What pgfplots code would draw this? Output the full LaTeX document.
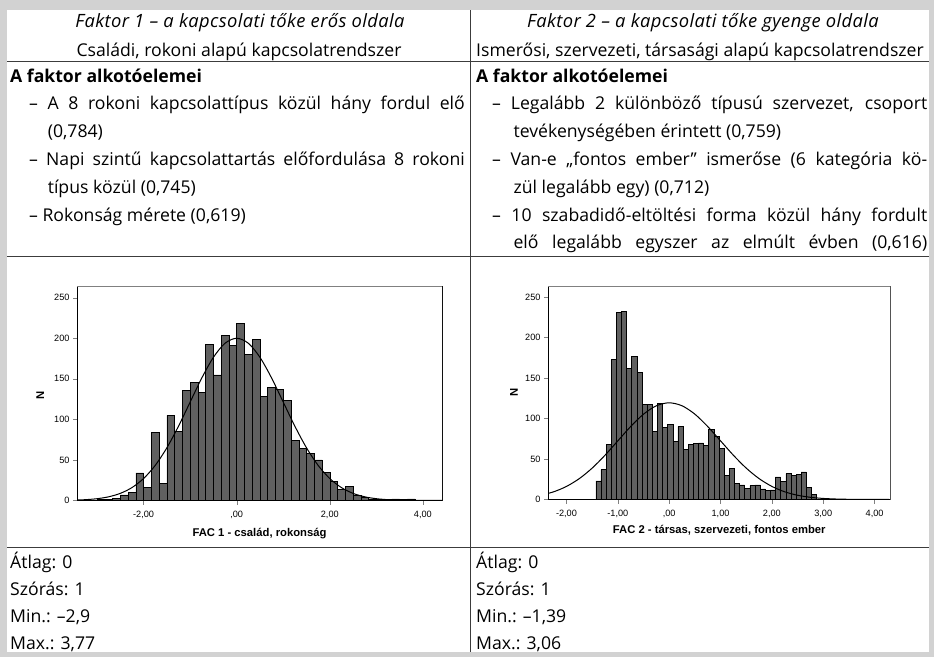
\documentclass[border=0pt]{standalone}
\usepackage{pgfplots}
\pgfplotsset{compat=1.18}
\usepackage{fontspec}
\setmainfont{Open Sans}
\newfontfamily\arial{Liberation Sans}
\newfontfamily\itfont[LetterSpace=2.2]{Open Sans Italic}
\definecolor{bordergray}{RGB}{210,210,210}
\definecolor{rulegray}{RGB}{60,60,60}
\definecolor{bargray}{RGB}{96,96,96}
\newcommand\tf{\fontsize{17.7}{20}\selectfont}
\tikzset{txt/.style={inner sep=0pt, font=\tf}}
\pgfplotsset{hist/.style={
  scale only axis, anchor=south west,
  ymin=0, ytick={0,50,100,150,200,250},
  yticklabels={0,50,100,150,200,250},
  tick pos=left, tick align=outside, major tick length=4bp,
  ticklabel style={font=\arial\fontsize{9.2}{10}\selectfont},
  xticklabel style={yshift=-3bp},
  axis line style={black, line width=0.8bp},
  xlabel style={font=\arial\bfseries\fontsize{11.3}{13}\selectfont, anchor=center},
  ylabel style={font=\arial\bfseries\fontsize{11.3}{13}\selectfont, anchor=center},
  ylabel={N},
}}
\begin{document}
\begin{tikzpicture}
\fill[bordergray] (0,0) rectangle (934bp,-657bp);
\fill[white] (7bp,-10bp) rectangle (929bp,-652bp);
% table rules
\draw[rulegray, line width=0.9bp] (7bp,-61.7bp) -- (929bp,-61.7bp);
\draw[rulegray, line width=0.9bp] (7bp,-256bp) -- (929bp,-256bp);
\draw[rulegray, line width=0.9bp] (7bp,-547bp) -- (929bp,-547bp);
\draw[rulegray, line width=0.9bp] (470.5bp,-10bp) -- (470.5bp,-652bp);
% header
\node[inner sep=0pt, anchor=base] at (240bp,-27bp) {\itfont\fontsize{18.4}{20}\selectfont Faktor 1 – a kapcsolati tőke erős oldala};
\node[txt, anchor=base] at (239bp,-56bp) {Családi, rokoni alapú kapcsolatrendszer};
\node[inner sep=0pt, anchor=base] at (703bp,-27bp) {\itfont\fontsize{18.4}{20}\selectfont Faktor 2 – a kapcsolati tőke gyenge oldala};
\node[txt, anchor=base] at (700bp,-56bp) {Ismerősi, szervezeti, társasági alapú kapcsolatrendszer};
% left column
\node[txt, anchor=base west] at (10bp,-82bp) {\bfseries A faktor alkotóelemei};
\node[txt, anchor=base west] at (29bp,-109.8bp) {\makebox[435.6bp][s]{– A 8 rokoni kapcsolattípus közül hány fordul elő}};
\node[txt, anchor=base west] at (47.6bp,-137.6bp) {(0,784)};
\node[txt, anchor=base west] at (29bp,-165.4bp) {\makebox[435.6bp][s]{– Napi szintű kapcsolattartás előfordulása 8 rokoni}};
\node[txt, anchor=base west] at (47.6bp,-193.2bp) {típus közül (0,745)};
\node[txt, anchor=base west] at (29bp,-221bp) {– Rokonság mérete (0,619)};
% right column
\node[txt, anchor=base west] at (476bp,-82bp) {\bfseries A faktor alkotóelemei};
\node[txt, anchor=base west] at (492bp,-109.8bp) {\makebox[435bp][s]{– Legalább 2 különböző típusú szervezet, csoport}};
\node[txt, anchor=base west] at (513.4bp,-137.6bp) {tevékenységében érintett (0,759)};
\node[txt, anchor=base west] at (492bp,-165.4bp) {\makebox[435bp][s]{– Van-e „fontos ember” ismerőse (6 kategória kö-}};
\node[txt, anchor=base west] at (513.4bp,-193.2bp) {zül legalább egy) (0,712)};
\node[txt, anchor=base west] at (492bp,-221bp) {\makebox[435bp][s]{– 10 szabadidő-eltöltési forma közül hány fordult}};
\node[txt, anchor=base west] at (513.4bp,-248.8bp) {\makebox[413.6bp][s]{elő legalább egyszer az elmúlt évben (0,616)}};
% stats
\node[txt, anchor=base west] at (10bp,-568bp) {Átlag: 0};
\node[txt, anchor=base west] at (10bp,-595bp) {Szórás: 1};
\node[txt, anchor=base west] at (10bp,-622bp) {Min.: –2,9};
\node[txt, anchor=base west] at (10bp,-649bp) {Max.: 3,77};
\node[txt, anchor=base west] at (476bp,-568bp) {Átlag: 0};
\node[txt, anchor=base west] at (476bp,-595bp) {Szórás: 1};
\node[txt, anchor=base west] at (476bp,-622bp) {Min.: –1,39};
\node[txt, anchor=base west] at (476bp,-649bp) {Max.: 3,06};

% histogram 1
\begin{axis}[hist, at={(77bp,-500.5bp)}, width=365bp, height=214.5bp,
  xmin=-3.43, xmax=4.41, ymax=264.4,
  xtick={-2,0,2,4}, xticklabels={{-2,00},{,00},{2,00},{4,00}},
  xlabel={FAC 1 - család, rokonság},
  xlabel style={at={(axis description cs:0.5,-0.156)}},
  ylabel style={at={(axis description cs:-0.101,0.49)}},
]
\addplot[ybar interval, fill=bargray, draw=black, line width=0.5bp] coordinates {
(-3.0,1) (-2.8333,1) (-2.6667,3) (-2.5,7) (-2.3333,10) (-2.1667,34)
(-2.0,16) (-1.8333,84) (-1.6667,21) (-1.5,105) (-1.3333,85) (-1.1667,136)
(-1.0,146) (-0.8333,133) (-0.6667,192) (-0.5,155) (-0.3333,204) (-0.1667,191)
(0,218) (0.1667,180) (0.3333,199) (0.5,128) (0.6667,139) (0.8333,137)
(1.0,123) (1.1667,74) (1.3333,64) (1.5,58) (1.6667,50) (1.8333,35)
(2.0,24) (2.1667,14) (2.3333,17) (2.5,6) (2.6667,4) (2.8333,2)
(3.0,1) (3.1667,1) (3.3333,2) (3.5,1) (3.6667,2) (3.8333,0)
};
\addplot[black, line width=1bp, smooth] coordinates {
(-3.5,0.44) (-3.25,1.02) (-3.0,2.22) (-2.75,4.56) (-2.5,8.79) (-2.25,15.91)
(-2.0,27.07) (-1.75,43.25) (-1.5,64.93) (-1.25,91.57) (-1.0,121.31) (-0.75,150.97)
(-0.5,176.50) (-0.25,193.85) (0,200) (0.25,193.85) (0.5,176.50) (0.75,150.97)
(1.0,121.31) (1.25,91.57) (1.5,64.93) (1.75,43.25) (2.0,27.07) (2.25,15.91)
(2.5,8.79) (2.75,4.56) (3.0,2.22) (3.25,1.02) (3.5,0.44) (3.75,0.18)
(4.0,0.07) (4.25,0.02) (4.5,0.01)
};
\draw[gray, line width=1bp] (rel axis cs:0,1) -- (rel axis cs:1,1) -- (rel axis cs:1,0);
\end{axis}

% histogram 2
\begin{axis}[hist, at={(548bp,-499.5bp)}, width=342.5bp, height=213.5bp,
  xmin=-2.36, xmax=4.31, ymax=263.6,
  xtick={-2,-1,0,1,2,3,4}, xticklabels={{-2,00},{-1,00},{,00},{1,00},{2,00},{3,00},{4,00}},
  xlabel={FAC 2 - társas, szervezeti, fontos ember},
  xlabel style={at={(axis description cs:0.5,-0.146)}},
  ylabel style={at={(axis description cs:-0.099,0.5)}},
]
\addplot[ybar interval, fill=bargray, draw=black, line width=0.5bp] coordinates {
(-1.43,23) (-1.33,37) (-1.23,68) (-1.13,173) (-1.03,231) (-0.93,232)
(-0.83,162) (-0.73,177) (-0.63,157) (-0.53,117) (-0.43,117) (-0.33,84)
(-0.23,119) (-0.13,89) (-0.03,93) (0.07,72) (0.17,90) (0.27,62)
(0.37,68) (0.47,69) (0.57,70) (0.67,67) (0.77,87) (0.87,78)
(0.97,63) (1.07,30) (1.17,38) (1.27,20) (1.37,18) (1.47,14)
(1.57,17) (1.67,18) (1.77,13) (1.87,11) (1.97,12) (2.07,28)
(2.17,22) (2.27,32) (2.37,30) (2.47,31) (2.57,34) (2.67,15)
(2.77,6) (2.87,0)
};
\addplot[black, line width=1bp, smooth] coordinates {
(-2.5,5.25) (-2.25,9.50) (-2.0,16.16) (-1.75,25.82) (-1.5,38.76) (-1.25,54.66)
(-1.0,72.42) (-0.75,90.13) (-0.5,105.37) (-0.25,115.73) (0,119.4) (0.25,115.73)
(0.5,105.37) (0.75,90.13) (1.0,72.42) (1.25,54.66) (1.5,38.76) (1.75,25.82)
(2.0,16.16) (2.25,9.50) (2.5,5.25) (2.75,2.72) (3.0,1.33) (3.25,0.61)
(3.5,0.26) (3.75,0.11) (4.0,0.04) (4.25,0.01) (4.5,0.005)
};
\draw[gray, line width=1bp] (rel axis cs:0,1) -- (rel axis cs:1,1) -- (rel axis cs:1,0);
\end{axis}
\end{tikzpicture}
\end{document}
